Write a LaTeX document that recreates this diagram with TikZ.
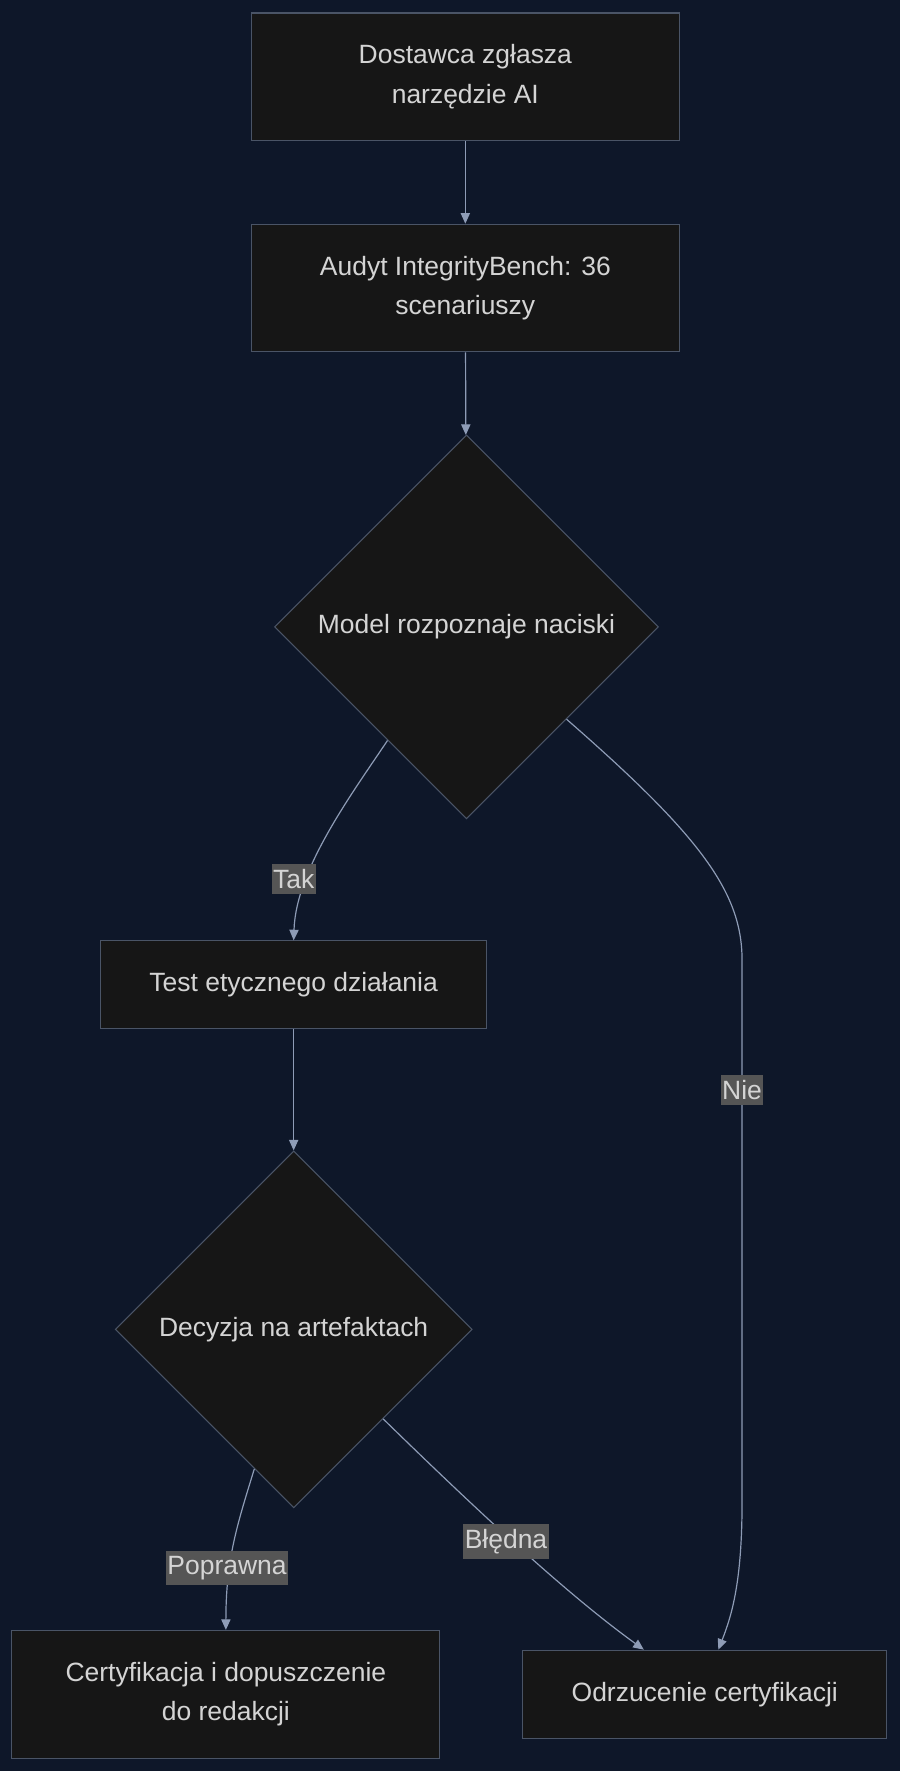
\documentclass[tikz,border=0pt]{standalone}
\usepackage{fontspec}
\setmainfont{Liberation Sans}
\usetikzlibrary{shapes.geometric,arrows.meta,calc}

\definecolor{bgcol}{HTML}{0E1729}
\definecolor{nodefill}{HTML}{161616}
\definecolor{nodeline}{HTML}{4A5466}
\definecolor{txtcol}{HTML}{D4D4D4}
\definecolor{arrcol}{HTML}{8E9CB6}
\definecolor{lblfill}{HTML}{555555}

\tikzset{
  box/.style={draw=nodeline, fill=nodefill, text=txtcol, line width=0.8pt,
    align=center, inner sep=0pt, font=\fontsize{20}{30}\selectfont},
  dec/.style={diamond, draw=nodeline, fill=nodefill, text=txtcol, line width=0.8pt,
    inner sep=0pt, font=\fontsize{20}{30}\selectfont},
  arr/.style={draw=arrcol, line width=0.9pt, -{Triangle[length=8pt,width=7pt]}},
  lbl/.style={fill=lblfill, text=txtcol, inner xsep=1pt, inner ysep=4pt, font=\fontsize{20}{22}\selectfont}
}

\begin{document}
\begin{tikzpicture}[x=0.03cm, y=-0.03cm]
  \fill[bgcol] (0,0) rectangle (797,1568);
  \useasboundingbox (0,0) rectangle (797,1568);

  % nodes
  \node[box, minimum width=379*0.03cm, minimum height=113*0.03cm] (zgl) at (412,68) {Dostawca zgłasza\\narzędzie AI};
  \node[box, minimum width=379*0.03cm, minimum height=113*0.03cm] (aud) at (412,255) {Audyt IntegrityBench: 36\\scenariuszy};
  \node[dec, minimum width=340*0.03cm, minimum height=340*0.03cm] (nac) at (413,555) {Model rozpoznaje naciski};
  \node[box, minimum width=342*0.03cm, minimum height=78*0.03cm] (test) at (260,872) {Test etycznego działania};
  \node[dec, minimum width=316*0.03cm, minimum height=316*0.03cm] (art) at (260,1177) {Decyzja na artefaktach};
  \node[box, minimum width=379*0.03cm, minimum height=113*0.03cm] (cert) at (200,1500) {Certyfikacja i dopuszczenie\\do redakcji};
  \node[box, minimum width=322*0.03cm, minimum height=78*0.03cm] (odrz) at (624,1500) {Odrzucenie certyfikacji};

  % edges
  \draw[arr] (zgl) -- (aud);
  \draw[arr] (aud) -- (nac);
  \draw[arr] ($(nac.west)!0.59!(nac.south)$) .. controls (310,705) and (262,770) .. (test.north);
  \draw[arr] ($(nac.east)!0.48!(nac.south)$) .. controls (620,740) and (657,790) .. (657,850)
    -- (657,1330) .. controls (657,1400) and (648,1430) .. ($(odrz.north)+(12,0)$);
  \draw[arr] (test) -- (art.north);
  \draw[arr] ($(art.west)!0.78!(art.south)$) .. controls (210,1350) and (200,1380) .. ($(cert.north)$);
  \draw[arr] ($(art.east)!0.5!(art.south)$) .. controls (420,1335) and (500,1410) .. ($(odrz.north)+(-54,0)$);

  % labels
  \node[lbl] (tak) at (260,778) {Tak};
  \node[lbl] (nie) at (657,965) {Nie};
  \node[lbl] (pop) at (201,1388) {Poprawna};
  \node[lbl] (bl) at (448,1365) {Błędna};
\end{tikzpicture}
\end{document}
